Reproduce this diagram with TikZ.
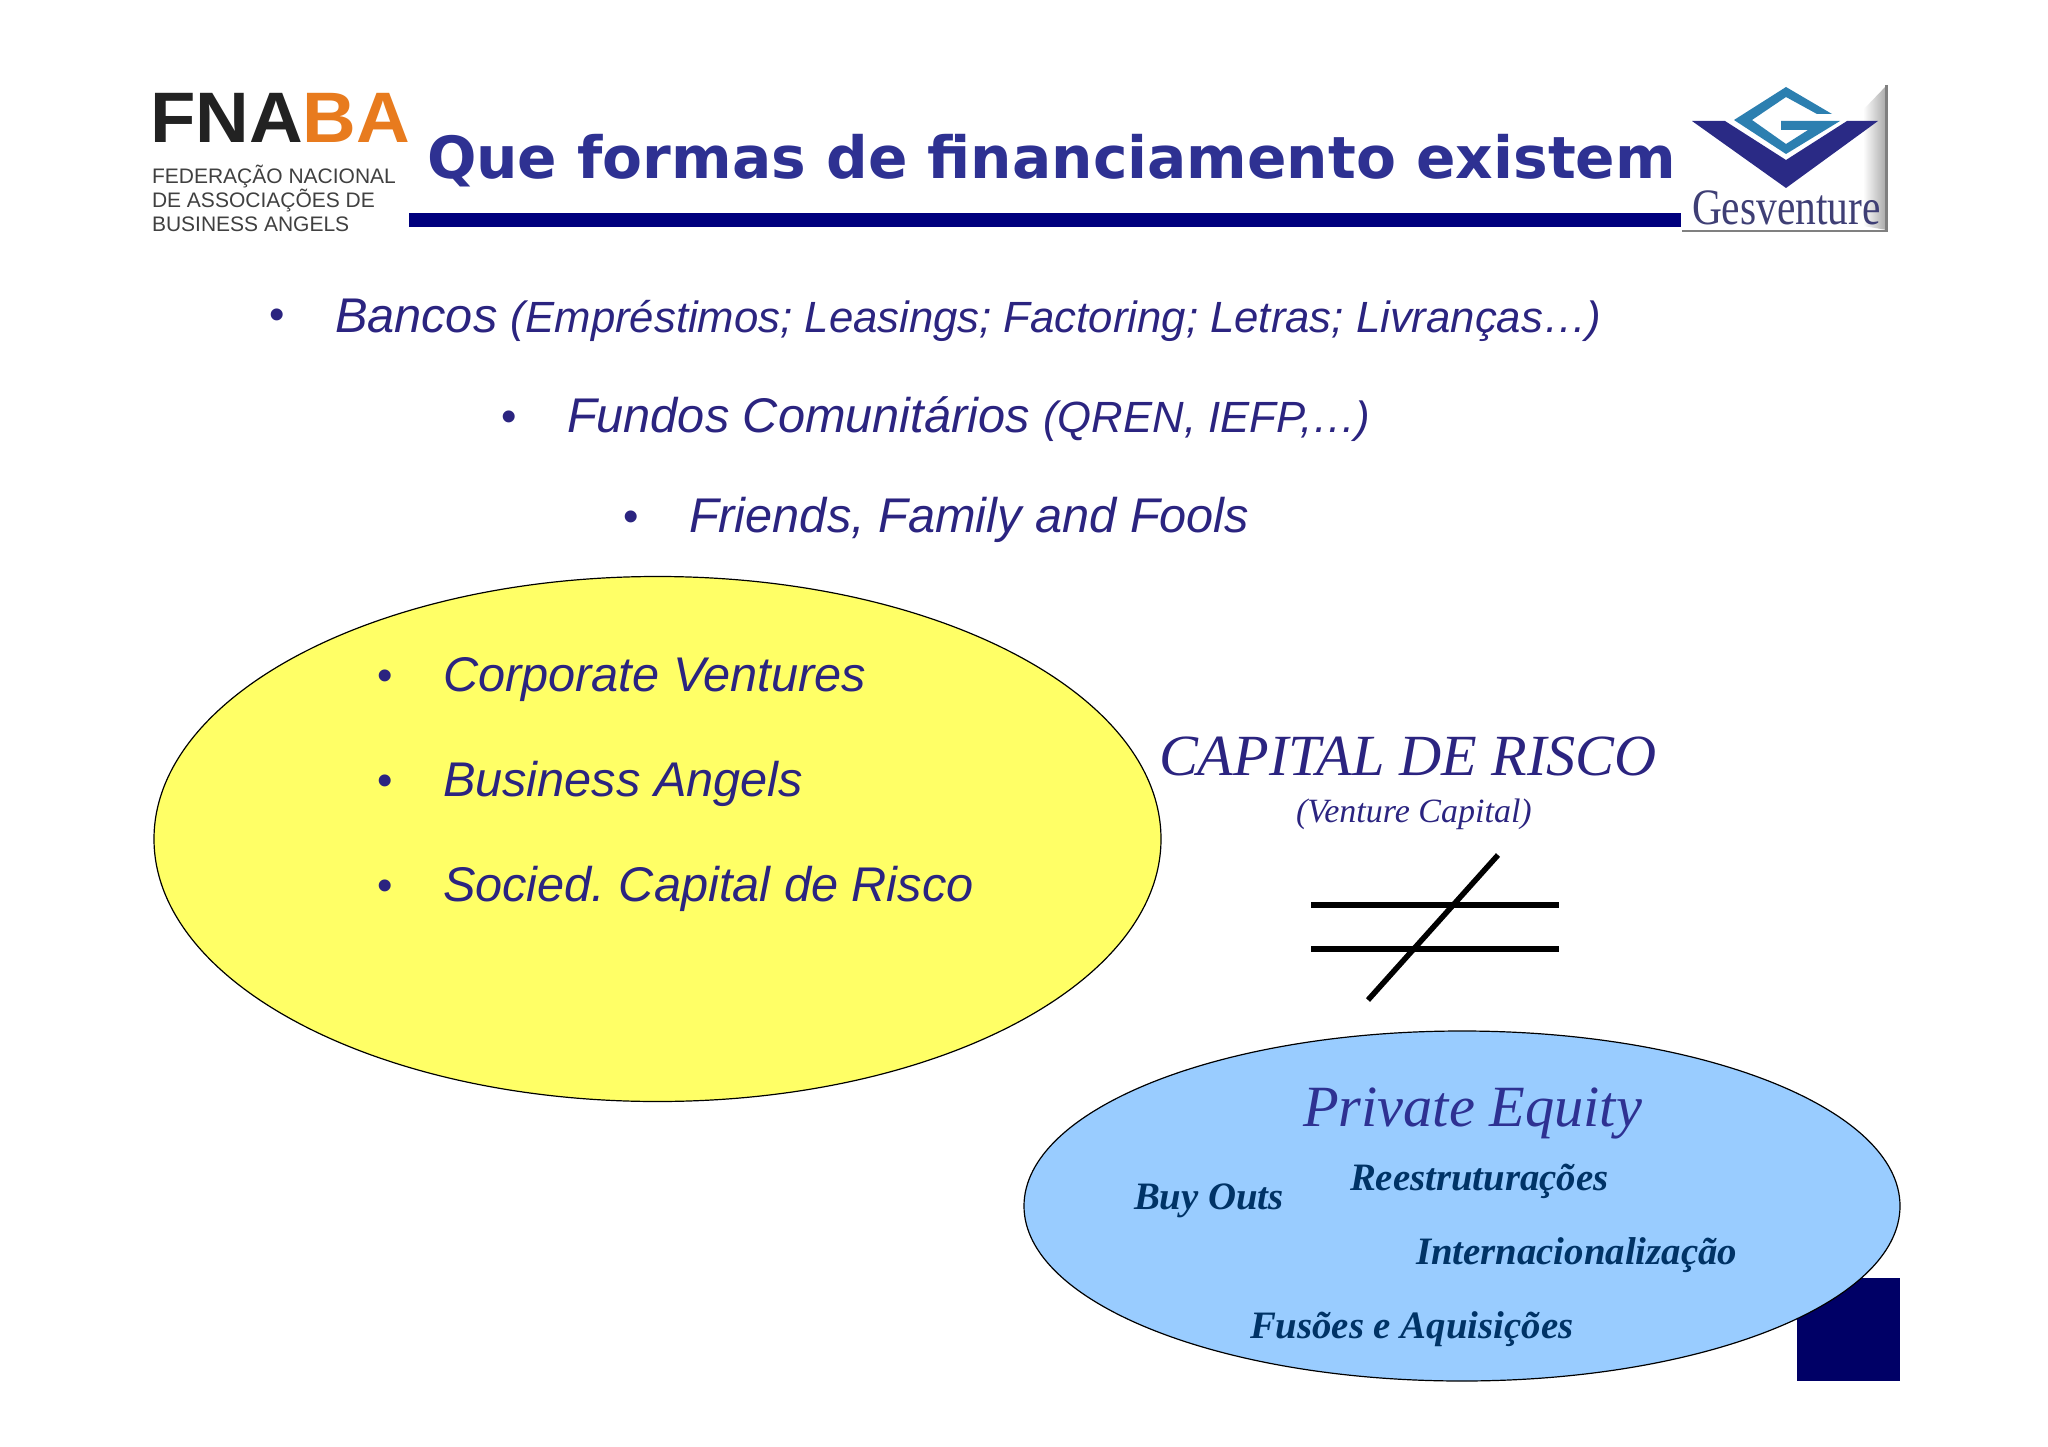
\documentclass[tikz,border=0pt]{standalone}
\usepackage{fontspec}
\setmainfont{Liberation Sans}
\newfontfamily\serifx{Liberation Serif}
\newfontfamily\verd{DejaVu Sans}
\definecolor{txtblue}{HTML}{2B2480}
\definecolor{titleblue}{HTML}{2E3192}
\definecolor{navy}{HTML}{000066}
\definecolor{ellyellow}{HTML}{FFFF66}
\definecolor{ellblue}{HTML}{99CCFF}
\definecolor{itemblue}{HTML}{003366}
\definecolor{fnorange}{HTML}{E87B1E}
\definecolor{gesblue}{HTML}{2A2A85}
\definecolor{geslight}{HTML}{2C7FB0}
\tikzset{x=1pt,y=-1pt,
 lab/.style={anchor=base west,inner sep=0pt,outer sep=0pt},
 main/.style={lab,text=txtblue,font=\fontsize{48.7}{48.7}\selectfont\itshape},
 dot/.style={anchor=base,inner sep=0pt,text=txtblue,font=\fontsize{44}{44}\selectfont},
 peitem/.style={lab,text=itemblue,font=\fontsize{38.8}{38.8}\serifx\bfseries\itshape\selectfont},
 neq/.style={line width=5.5pt,draw=black},
 bubble/.style={draw=black,line width=1.2pt}}
\newcommand{\bigit}[1]{\textcolor{txtblue}{\fontsize{48.7}{48.7}\selectfont\itshape #1}}
\newcommand{\smallit}[1]{\textcolor{txtblue}{\fontsize{43.7}{43.7}\selectfont\itshape #1}}
\frenchspacing
\begin{document}
\begin{tikzpicture}
\useasboundingbox (0,0) rectangle (2048,1447);
\fill[white] (0,0) rectangle (2048,1447);
% logos
\node[lab,xscale=1.04,font=\fontsize{71.5}{71.5}\selectfont\bfseries] (fn) at (150,143) {\textcolor[HTML]{222222}{FNA}\textcolor{fnorange}{BA}};
\node[lab,text=black!75,font=\fontsize{21}{21}\selectfont] (f1) at (152,184) {FEDERAÇÃO NACIONAL};
\node[lab,text=black!75,font=\fontsize{21}{21}\selectfont] (f2) at (152,208) {DE ASSOCIAÇÕES DE};
\node[lab,text=black!75,font=\fontsize{21}{21}\selectfont] (f3) at (152,232) {BUSINESS ANGELS};
% title
\node[lab,text=titleblue,font=\fontsize{58.2}{58.2}\verd\bfseries\selectfont] (title) at (427,179) {Que formas de financiamento existem};
\fill[navy!85!blue] (409,213) rectangle (1681,227);
% gesventure logo
\shade[left color=white,right color=black!35] (1863,110) -- (1887,85) -- (1887,230) -- (1863,226) -- cycle;
\fill[black!50] (1885,85) rectangle (1888,232);
\fill[black!50] (1682,230) rectangle (1888,232.5);
\fill[gesblue] (1692,121) -- (1725,121) -- (1786,160) -- (1847,121) -- (1878,121) -- (1786,188) -- cycle;
\fill[geslight] (1786,87) -- (1832,114) -- (1817,114) -- (1786,97) -- (1752,120) -- (1786,144) -- (1808,130) -- (1781,130) -- (1781,121) -- (1840,121) -- (1786,154) -- (1734,120) -- cycle;
\node[lab,text=gesblue!70!black!85,font=\fontsize{51}{51}\serifx\selectfont,xscale=0.813] (ges) at (1692,225) {Gesventure};
% bullets top
\node[dot] (b1) at (277,330) {•};
\node[lab] (t1) at (335,333) {\bigit{Bancos }\smallit{(Empréstimos; Leasings; Factoring; Letras; Livranças…)}};
\node[dot] (b2) at (509,431) {•};
\node[lab] (t2) at (567,432) {\bigit{Fundos Comunitários }\smallit{(QREN, IEFP,…)}};
\node[dot] (b3) at (631,531) {•};
\node[main] (t3) at (689,532) {Friends, Family and Fools};
% yellow ellipse
\draw[bubble,fill=ellyellow] (657.5,839) ellipse [x radius=503.5,y radius=262.5];
\node[dot] (b4) at (385,690) {•};
\node[main] (c1) at (443,691) {Corporate Ventures};
\node[dot] (b5) at (385,795) {•};
\node[main] (c2) at (443,796) {Business Angels};
\node[dot] (b6) at (385,900) {•};
\node[main] (c3) at (443,901) {Socied. Capital de Risco};
% capital de risco
\node[lab,text=txtblue,font=\fontsize{58.3}{58.3}\serifx\itshape\selectfont] (cr) at (1159,775) {CAPITAL DE RISCO};
\node[lab,text=txtblue,font=\fontsize{34}{34}\serifx\itshape\selectfont] (vc) at (1296,822) {(Venture Capital)};
% not equal
\coordinate (n1a) at (1311,905); \coordinate (n1b) at (1559,905);
\coordinate (n2a) at (1311,949); \coordinate (n2b) at (1559,949);
\coordinate (n3a) at (1498,855); \coordinate (n3b) at (1368,1000);
\draw[neq] (n1a) -- (n1b);
\draw[neq] (n2a) -- (n2b);
\draw[neq] (n3a) -- (n3b);
% square + blue ellipse
\fill[navy] (1797,1278) rectangle (1900,1381);
\draw[bubble,fill=ellblue] (1462,1206) ellipse [x radius=438,y radius=175];
\node[lab,text=titleblue,font=\fontsize{58.4}{58.4}\serifx\itshape\selectfont] (pe) at (1303,1126) {Private Equity};
\node[peitem] (i1) at (1134,1209) {Buy Outs};
\node[peitem] (i2) at (1350,1190) {Reestruturações};
\node[peitem] (i3) at (1416,1264) {Internacionalização};
\node[peitem] (i4) at (1250,1338) {Fusões e Aquisições};
\end{tikzpicture}
\end{document}
